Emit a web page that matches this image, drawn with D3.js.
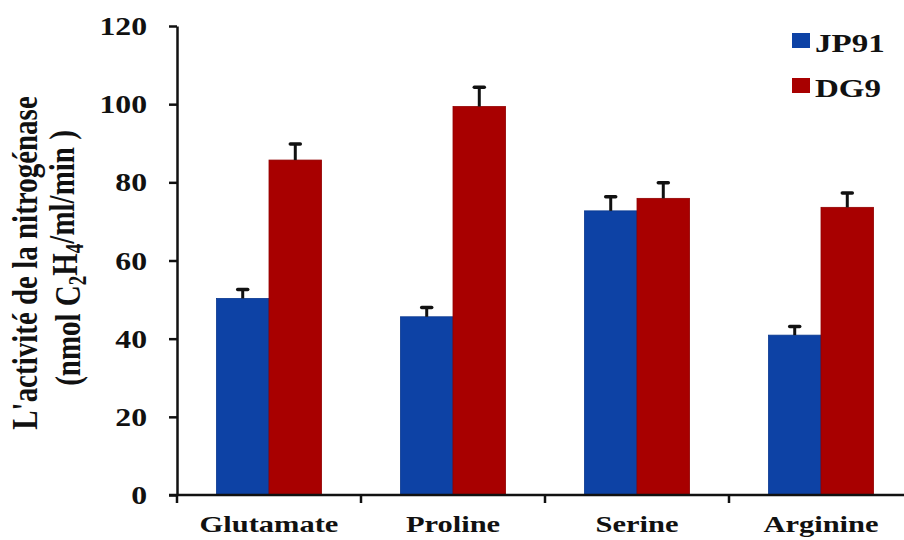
<!DOCTYPE html>
<html>
<head>
<meta charset="utf-8">
<script src="https://cdn.jsdelivr.net/npm/d3@7"></script>
<style>
  body { margin: 0; background: #fff; }
  svg { display: block; }
  text { font-family: "Liberation Serif", "Times New Roman", serif; font-weight: bold; fill: #111; }
</style>
</head>
<body>
<svg id="chart"></svg>
<script>
//////////////// Daten ////////////////////
const categories = ["Glutamate", "Proline", "Serine", "Arginine"];
const series = ["JP91", "DG9"];
const jp91 = [50.3, 45.6, 72.7, 40.9];
const jp91Err = [2.3, 2.4, 3.6, 2.2];
const dg9 = [85.7, 99.4, 75.9, 73.6];
const dg9Err = [4.1, 4.9, 4.0, 3.7];
const yTicks = [0, 20, 40, 60, 80, 100, 120];

//////////////// Konstanten ////////////////////
const W = 904, H = 540,
  stretch = 1.27,          // das Original ist horizontal gedehnt
  colors = {JP91: "#0D42A5", DG9: "#A80000"};

const rows = categories.map((c, i) => ({
  cat: c,
  values: [
    {key: "JP91", v: jp91[i], err: jp91Err[i]},
    {key: "DG9", v: dg9[i], err: dg9Err[i]}
  ]
}));

const svg = d3.select("#chart").attr("width", W).attr("height", H);

////////////////// Scaling ////////////
const x0 = d3.scaleBand().domain(categories).range([177, 913]);
const x1 = d3.scaleBand().domain(series).range([0, x0.bandwidth()]).paddingOuter(0.75);
const y = d3.scaleLinear().domain([0, 120]).range([495, 26]);

//////////////// Balken ///////////////
const groups = svg.append("g").selectAll("g")
  .data(rows)
  .enter().append("g")
  .attr("transform", d => "translate(" + x0(d.cat) + ",0)");

groups.selectAll("rect")
  .data(d => d.values)
  .enter().append("rect")
  .attr("x", d => x1(d.key))
  .attr("y", d => y(d.v))
  .attr("width", x1.bandwidth())
  .attr("height", d => y(0) - y(d.v))
  .attr("fill", d => colors[d.key])
  .attr("stroke", d => d3.rgb(colors[d.key]).darker(0.4))
  .attr("stroke-width", 0.8);

// Fehlerbalken (nur nach oben)
groups.selectAll("line.err")
  .data(d => d.values)
  .enter().append("line")
  .attr("class", "err")
  .attr("x1", d => x1(d.key) + x1.bandwidth() / 2)
  .attr("x2", d => x1(d.key) + x1.bandwidth() / 2)
  .attr("y1", d => y(d.v))
  .attr("y2", d => y(d.v + d.err))
  .attr("stroke", "#111")
  .attr("stroke-width", 3);

groups.selectAll("line.cap")
  .data(d => d.values)
  .enter().append("line")
  .attr("class", "cap")
  .attr("x1", d => x1(d.key) + x1.bandwidth() / 2 - 5)
  .attr("x2", d => x1(d.key) + x1.bandwidth() / 2 + 5)
  .attr("y1", d => y(d.v + d.err))
  .attr("y2", d => y(d.v + d.err))
  .attr("stroke", "#111")
  .attr("stroke-width", 3.5)
  .attr("stroke-linecap", "round");

//////////////// Achsen ///////////////
const yAxis = svg.append("g")
  .attr("transform", "translate(177,0)")
  .call(d3.axisLeft(y).tickValues(yTicks).tickSize(8).tickSizeOuter(0).tickFormat(d3.format("d")));
yAxis.select(".domain").attr("stroke", "#111").attr("stroke-width", 2.5);
yAxis.selectAll(".tick line").attr("stroke", "#111").attr("stroke-width", 2.5);
yAxis.selectAll(".tick text")
  .attr("x", -30 / stretch)
  .attr("dy", "0.34em")
  .attr("transform", "scale(" + stretch + ",1)")
  .style("font-size", "25px")
  .attr("fill", "#111");

// x-Achse: Linie mit Strichen an den Gruppengrenzen
const xAxis = svg.append("g").attr("transform", "translate(0," + y(0) + ")");
xAxis.append("line")
  .attr("x1", 169).attr("x2", x0.range()[1])
  .attr("stroke", "#111").attr("stroke-width", 2.5);
xAxis.selectAll("line.tick")
  .data(categories.map(c => x0(c)).concat([x0.range()[1]]))
  .enter().append("line")
  .attr("class", "tick")
  .attr("x1", d => d).attr("x2", d => d)
  .attr("y1", 0).attr("y2", 8)
  .attr("stroke", "#111").attr("stroke-width", 2.5);

svg.append("g").selectAll("text")
  .data(categories)
  .enter().append("text")
  .attr("transform", d => "translate(" + (x0(d) + x0.bandwidth() / 2) + ",532) scale(" + stretch + ",1)")
  .attr("text-anchor", "middle")
  .style("font-size", "24px")
  .text(d => d);

//////////////// Achsentitel ///////////////
svg.append("text")
  .attr("transform", "translate(37,263) scale(" + stretch + ",1) rotate(-90)")
  .attr("text-anchor", "middle")
  .style("font-size", "29px")
  .text("L'activité de la nitrogénase");

const t2 = svg.append("text")
  .attr("transform", "translate(80,258) scale(" + stretch + ",1) rotate(-90)")
  .attr("text-anchor", "middle")
  .style("font-size", "29px");
t2.append("tspan").text("(nmol C");
t2.append("tspan").attr("dy", "0.25em").style("font-size", "19px").text("2");
t2.append("tspan").attr("dy", "-0.25em").text("H");
t2.append("tspan").attr("dy", "0.25em").style("font-size", "19px").text("4");
t2.append("tspan").attr("dy", "-0.25em").text("/ml/min )");

//////////////// Legende ///////////////
const legend = svg.append("g").selectAll("g")
  .data(series)
  .enter().append("g")
  .attr("transform", (d, i) => "translate(792," + (33 + i * 45) + ")");
legend.append("rect")
  .attr("width", 18).attr("height", 15)
  .attr("fill", d => colors[d]);
legend.append("text")
  .attr("transform", "translate(23,19) scale(" + stretch + ",1)")
  .style("font-size", "26px")
  .text(d => d);
</script>
</body>
</html>
